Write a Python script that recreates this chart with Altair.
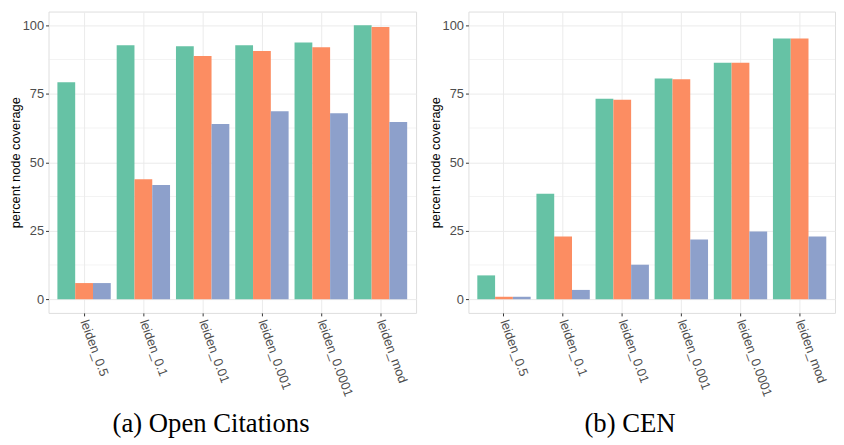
import altair as alt
import pandas as pd

categories = ["leiden_0.5", "leiden_0.1", "leiden_0.01", "leiden_0.001", "leiden_0.0001", "leiden_mod"]
series = ["series_1", "series_2", "series_3"]
colors = ["#66c2a5", "#fc8d62", "#8da0cb"]

oc_s1 = [79.2, 92.7, 92.3, 92.7, 93.7, 100.0]
oc_s2 = [5.9, 43.8, 88.8, 90.6, 92.0, 99.4]
oc_s3 = [5.9, 41.7, 64.0, 68.6, 67.9, 64.7]

cen_s1 = [8.7, 38.5, 73.2, 80.6, 86.3, 95.2]
cen_s2 = [0.9, 22.9, 72.8, 80.3, 86.3, 95.2]
cen_s3 = [0.9, 3.4, 12.6, 21.8, 24.7, 22.9]

y_ticks = [0, 25, 50, 75, 100]
minor_ticks = [12.5, 37.5, 62.5, 87.5]
captions = ["(a) Open Citations", "(b) CEN"]


def long_df(s1, s2, s3):
    rows = []
    for vals, s in zip([s1, s2, s3], series):
        for c, v in zip(categories, vals):
            rows.append({"category": c, "series": s, "value": v})
    return pd.DataFrame(rows)


yscale = alt.Scale(domain=[-5, 105], nice=False, zero=False)
minor_df = pd.DataFrame({"value": minor_ticks})


def y_axis():
    return alt.Axis(
        values=y_ticks,
        title="percent node coverage",
        titleFont="Liberation Sans",
        titleFontSize=13,
        titleFontWeight="normal",
        titleColor="#000000",
        titlePadding=0,
        labelFont="Liberation Sans",
        labelFontSize=13,
        labelColor="#4d4d4d",
        labelPadding=2,
        tickColor="#333333",
        tickSize=3,
        grid=True,
        gridColor="#ebebeb",
        gridWidth=1,
        domain=False,
    )


def panel(df, caption, width, title_x):
    minor = alt.Chart(minor_df).mark_rule(color="#ebebeb", strokeWidth=0.6).encode(
        y=alt.Y("value:Q", scale=yscale, axis=y_axis())
    )
    bars = alt.Chart(df).mark_bar().encode(
        x=alt.X(
            "category:N",
            sort=categories,
            scale=alt.Scale(paddingInner=0.1, paddingOuter=0.15),
            axis=alt.Axis(
                title=caption,
                titleFont="Liberation Serif",
                titleFontSize=27,
                titleFontWeight="normal",
                titleColor="#000000",
                titleX=title_x,
                titleY=120,
                titleAlign="center",
                titleBaseline="alphabetic",
                labelAngle=70,
                labelAlign="left",
                labelBaseline="middle",
                labelPadding=4,
                labelFont="Liberation Sans",
                labelFontSize=13,
                labelColor="#4d4d4d",
                tickColor="#333333",
                tickSize=3,
                grid=True,
                gridColor="#ebebeb",
                gridWidth=1,
                bandPosition=0.5,
                domain=False,
            ),
        ),
        xOffset=alt.XOffset("series:N", sort=series, scale=alt.Scale(paddingInner=0, paddingOuter=0)),
        y=alt.Y("value:Q", scale=yscale, axis=y_axis()),
        color=alt.Color("series:N", sort=series, scale=alt.Scale(domain=series, range=colors), legend=None),
    )
    return alt.layer(minor, bars).properties(width=width, height=305)


left = panel(long_df(oc_s1, oc_s2, oc_s3), captions[0], 372, 164)
right = panel(long_df(cen_s1, cen_s2, cen_s3), captions[1], 371, 163)

chart = alt.hconcat(left, right, spacing=11).properties(
    padding={"left": 0, "top": 0, "right": 0, "bottom": 0}
).configure_view(stroke="#333333", strokeWidth=1).configure(background="white")

chart.save("out.html", embed_options={"renderer": "svg", "actions": False})
